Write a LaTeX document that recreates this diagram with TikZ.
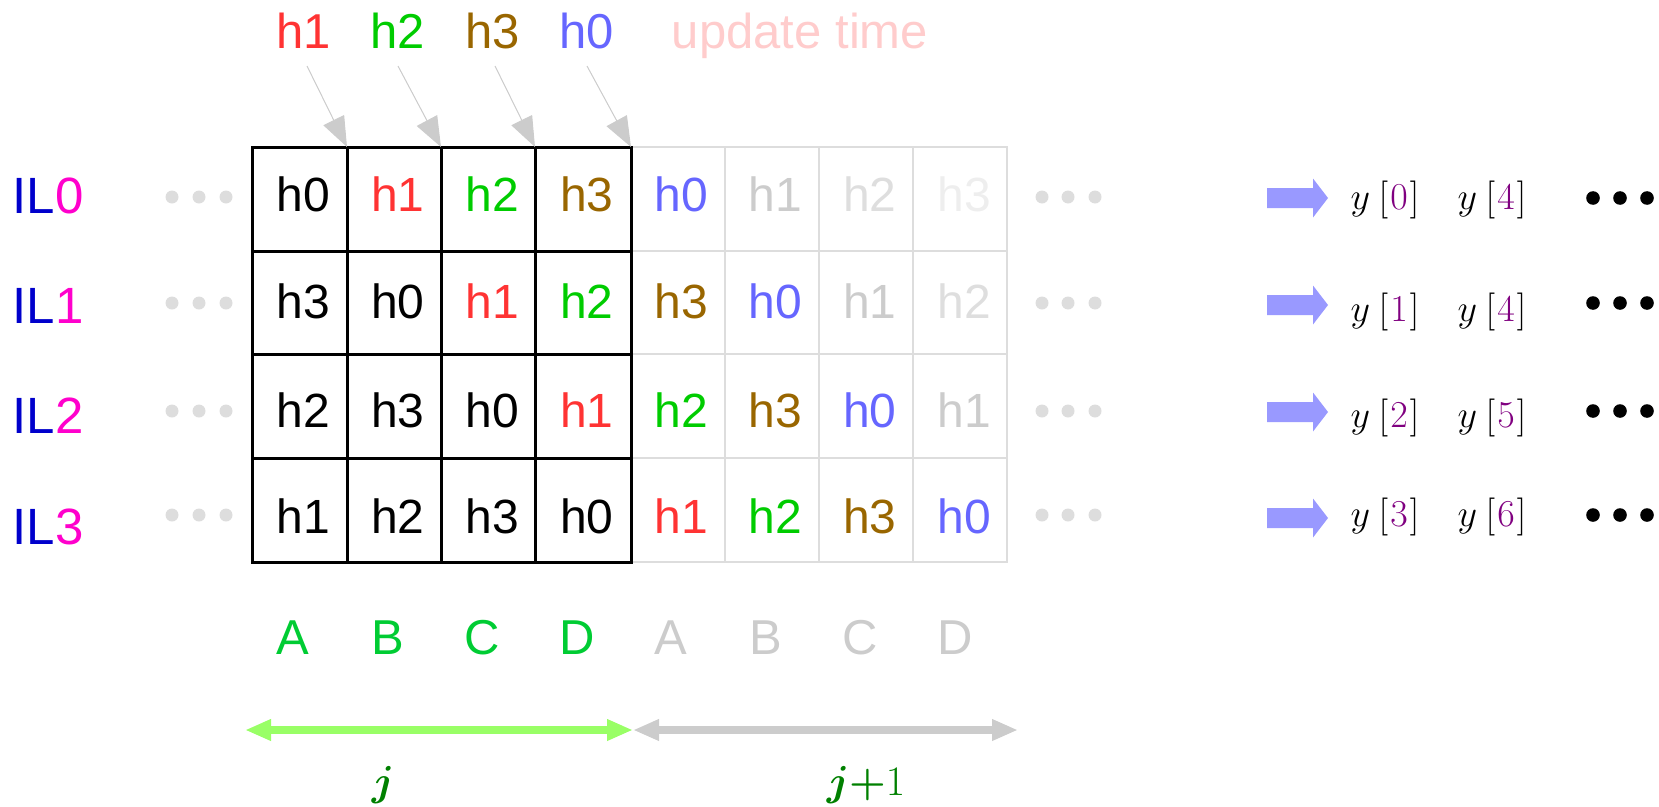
\RequirePackage{fix-cm}
\documentclass[tikz,border=0pt]{standalone}
\usepackage{amsmath}
\usepackage{fontspec}
\setmainfont{Liberation Sans}
\usetikzlibrary{arrows.meta}
\definecolor{cred}{RGB}{255,51,51}
\definecolor{cgreen}{RGB}{0,204,0}
\definecolor{cbrown}{RGB}{153,102,0}
\definecolor{cblue}{RGB}{102,102,255}
\definecolor{gA}{RGB}{204,204,204}
\definecolor{gB}{RGB}{222,222,222}
\definecolor{gC}{RGB}{238,238,238}
\definecolor{ilblue}{RGB}{0,0,204}
\definecolor{ilmag}{RGB}{255,0,204}
\definecolor{lgreen}{RGB}{0,204,51}
\definecolor{pink}{RGB}{255,204,204}
\definecolor{dotgray}{RGB}{221,221,221}
\definecolor{arrblue}{RGB}{153,153,255}
\definecolor{ypurple}{RGB}{128,0,128}
\definecolor{arrgreen}{RGB}{153,255,102}
\definecolor{jgreen}{RGB}{0,128,0}
\definecolor{gridgray}{RGB}{221,221,221}
\tikzset{
  cell/.style={font=\fontsize{48}{50}\selectfont, inner sep=0pt, anchor=base},
  toplabel/.style={font=\fontsize{49}{51}\selectfont, inner sep=0pt, anchor=base},
  illabel/.style={font=\fontsize{51}{53}\selectfont, inner sep=0pt, anchor=base},
  collabel/.style={font=\fontsize{49}{51}\selectfont, inner sep=0pt, anchor=base},
  ylabel/.style={font=\fontsize{38}{40}\selectfont, inner sep=0pt, anchor=center},
  jlabel/.style={font=\fontsize{42}{44}\selectfont, inner sep=0pt, anchor=center, text=jgreen},
  toparrow/.style={draw=gA, line width=1pt, -{Triangle[length=30pt,width=23pt]}, fill=gA},
  bigarrow/.style={line width=8pt, {Triangle[length=26pt,width=20pt]}-{Triangle[length=26pt,width=20pt]}},
}
\newcommand{\yl}[1]{$y\mkern4mu[\mkern1mu\textcolor{ypurple}{#1}\mkern1mu]$}
\begin{document}
\begin{tikzpicture}[x=1pt,y=-1pt]
\useasboundingbox (0,0) rectangle (1659,806);
% gray grid
\draw[gridgray, line width=1.5pt] (631,147) rectangle (1007,562);
\foreach \x in {725,819,913} \draw[gridgray, line width=1.5pt] (\x,147) -- (\x,562);
\foreach \y in {251,354,458} \draw[gridgray, line width=1.5pt] (631,\y) -- (1007,\y);
% black grid
\draw[black, line width=3pt] (252,147) rectangle (631,562);
\foreach \x in {347,441,535} \draw[black, line width=3pt] (\x,147) -- (\x,562);
\foreach \y in {251,354,458} \draw[black, line width=3pt] (252,\y) -- (631,\y);
% cells
\foreach [count=\i from 0] \c/\t in {black/h0,cred/h1,cgreen/h2,cbrown/h3,cblue/h0,gA/h1,gB/h2,gC/h3}
  \node[cell, text=\c] (c0\i) at ({303.5+94.4*\i},211) {\t};
\foreach [count=\i from 0] \c/\t in {black/h3,black/h0,cred/h1,cgreen/h2,cbrown/h3,cblue/h0,gA/h1,gB/h2}
  \node[cell, text=\c] (c1\i) at ({303.5+94.4*\i},318) {\t};
\foreach [count=\i from 0] \c/\t in {black/h2,black/h3,black/h0,cred/h1,cgreen/h2,cbrown/h3,cblue/h0,gA/h1}
  \node[cell, text=\c] (c2\i) at ({303.5+94.4*\i},427) {\t};
\foreach [count=\i from 0] \c/\t in {black/h1,black/h2,black/h3,black/h0,cred/h1,cgreen/h2,cbrown/h3,cblue/h0}
  \node[cell, text=\c] (c3\i) at ({303.5+94.4*\i},533) {\t};
% top labels
\node[toplabel, text=cred] (t1) at (304,48) {h1};
\node[toplabel, text=cgreen] (t2) at (398,48) {h2};
\node[toplabel, text=cbrown] (t3) at (493,48) {h3};
\node[toplabel, text=cblue] (t0) at (587,48) {h0};
\node[toplabel, text=pink] (ut) at (800,48) {update time};
% top arrows
\coordinate (s1) at (307,66); \coordinate (e1) at (347,147);
\coordinate (s2) at (398,66); \coordinate (e2) at (441,147);
\coordinate (s3) at (495,66); \coordinate (e3) at (535,147);
\coordinate (s0) at (587,66); \coordinate (e0) at (631,147);
\foreach \k in {1,2,3,0} \draw[toparrow] (s\k) -- (e\k);
% IL labels
\node[illabel] (il0) at (48,213) {\textcolor{ilblue}{IL}\textcolor{ilmag}{0}};
\node[illabel] (il1) at (48,323) {\textcolor{ilblue}{IL}\textcolor{ilmag}{1}};
\node[illabel] (il2) at (48,433) {\textcolor{ilblue}{IL}\textcolor{ilmag}{2}};
\node[illabel] (il3) at (48,544) {\textcolor{ilblue}{IL}\textcolor{ilmag}{3}};
% gray dots
\foreach \y in {197,303,411,515} {
  \foreach \x in {172,199,226,1042,1068,1095} \fill[dotgray] (\x,\y) circle (6.5);
}
% blue arrows
\foreach \y in {198,305,412,518}
  \fill[arrblue] (1267,\y-10) -- (1313,\y-10) -- (1313,\y-19.5) -- (1328,\y) -- (1313,\y+19.5) -- (1313,\y+10) -- (1267,\y+10) -- cycle;
% y labels
\node[ylabel] (ya0) at (1385,200) {\yl{0}};
\node[ylabel] (yb0) at (1492,200) {\yl{4}};
\node[ylabel] (ya1) at (1385,312) {\yl{1}};
\node[ylabel] (yb1) at (1492,312) {\yl{4}};
\node[ylabel] (ya2) at (1385,418) {\yl{2}};
\node[ylabel] (yb2) at (1492,418) {\yl{5}};
\node[ylabel] (ya3) at (1385,517) {\yl{3}};
\node[ylabel] (yb3) at (1492,517) {\yl{6}};
% black dots
\foreach \y in {198,303,411,515} {
  \foreach \x in {1593,1620,1647} \fill[black] (\x,\y) circle (6.8);
}
% column labels
\foreach [count=\i from 0] \t in {A,B,C,D} {
  \node[collabel, text=lgreen] (ca\i) at ({293+94.6*\i},654) {\t};
  \node[collabel, text=gA] (cb\i) at ({671+94.6*\i},654) {\t};
}
% bottom arrows
\coordinate (b0) at (245,730); \coordinate (b1) at (633,730); \coordinate (b2) at (1018,730);
\draw[bigarrow, arrgreen] (b0) -- (b1);
\draw[bigarrow, gA] (b1) -- (b2);
\node[jlabel] (j) at (383,785) {$\boldsymbol{j}$};
\node[jlabel] (j1) at (866,785) {$\boldsymbol{j}{\boldsymbol{+}}1$};
\end{tikzpicture}
\end{document}
